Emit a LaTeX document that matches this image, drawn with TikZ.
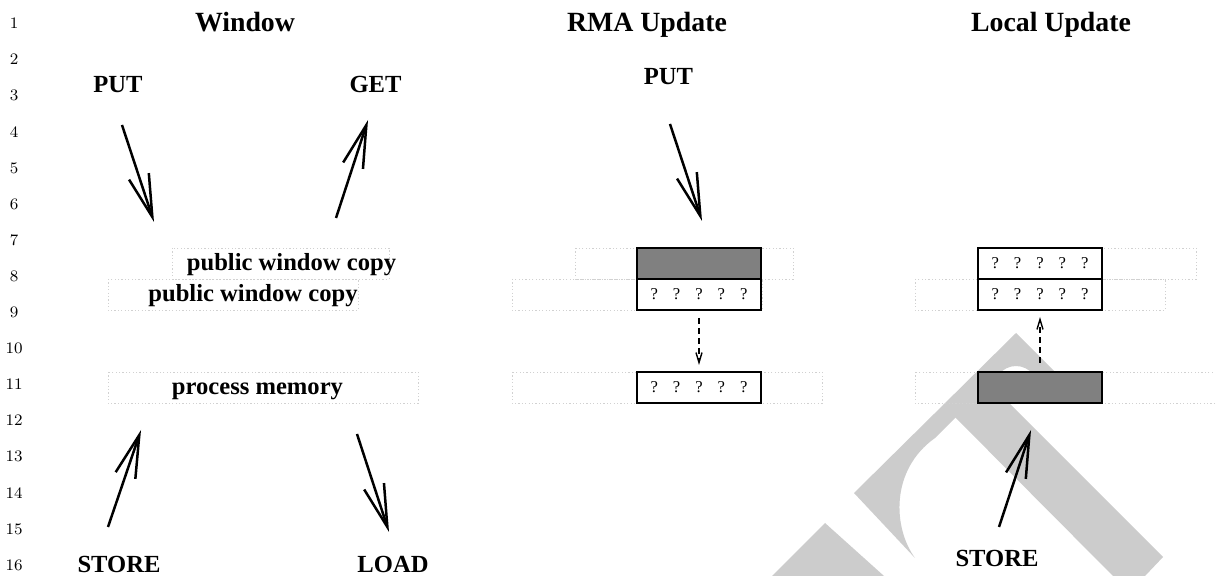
\documentclass[tikz,border=0pt]{standalone}
\usepackage{fontspec}
\newfontfamily\tms{Liberation Serif}
\usetikzlibrary{arrows.meta}
\tikzset{
 ttl/.style={font=\tms\fontsize{13.9}{16}\selectfont\bfseries, inner sep=0pt, anchor=base},
 lbl/.style={font=\tms\fontsize{12.3}{14}\selectfont\bfseries, inner sep=0pt, anchor=base},
 lnum/.style={font=\fontsize{8}{9}\selectfont, inner sep=0pt},
 bigarrow/.style={line width=1.25pt, -{Straight Barb[length=21.4pt,width=10.4pt]}},
 dasharrow/.style={line width=0.7pt, dash pattern=on 3pt off 2pt, -{Straight Barb[length=5pt,width=3pt]}},
 dotbox/.style={draw=black!18, line width=0.4pt, dash pattern=on 0.6pt off 1.1pt},
 cell/.style={draw=black, line width=0.55pt, minimum width=62pt, minimum height=15.5pt, inner sep=0pt, outer sep=0pt, anchor=north west, font=\tms\fontsize{8.3}{9}\selectfont},
 graycell/.style={cell, fill=black!50},
 wm/.style={fill=black!20}
}
\newcommand\qmarksrow{?\hspace{7.5pt}?\hspace{7.5pt}?\hspace{7.5pt}?\hspace{7.5pt}?}
\begin{document}
\begin{tikzpicture}[x=0.5pt,y=-0.5pt]
\useasboundingbox (0,0) rectangle (1215,576);
\fill[white] (0,0) rectangle (1215,576);
% watermark
\fill[wm] (1016,333) -- (854,493) -- (915,558) .. controls (893,528) and (890,470) .. (935,438) -- (998,375) .. controls (1008,363) and (1024,363) .. (1034,375) -- (1050,391) -- (1075,392) -- cycle;
\fill[wm] (943,405) -- (1113,576) -- (1145,576) -- (1163,557) -- (1000,394) -- (960,394) -- cycle;
\fill[wm] (825,523) -- (772,576) -- (884,576) -- cycle;
% line numbers
\foreach \n in {1,...,16} \node[lnum] (ln\n) at (14,{23.5+36.1*(\n-1)}) {\n};
% titles
\node[ttl] (t1) at (245,31.5) {Window};
\node[ttl] (t2) at (647,31.5) {RMA Update};
\node[ttl] (t3) at (1051,31.5) {Local Update};
% dotted boxes
\draw[dotbox] (172,248) rectangle (389,279);
\draw[dotbox] (108,279) rectangle (358,310);
\draw[dotbox] (108,372) rectangle (418,403);
\draw[dotbox] (575,248) rectangle (793,279);
\draw[dotbox] (512,279) rectangle (762,310);
\draw[dotbox] (512,372) rectangle (822,403);
\draw[dotbox] (978,248) rectangle (1196,279);
\draw[dotbox] (915,279) rectangle (1165,310);
\draw[dotbox] (915,372) rectangle (1225,403);
% labels
\node[lbl] (put1) at (118,93) {PUT};
\node[lbl] (get1) at (375.5,93) {GET};
\node[lbl] (pw1) at (291.5,271) {public window copy};
\node[lbl] (pw2) at (253,302) {public window copy};
\node[lbl] (pm1) at (257.5,395) {process memory};
\node[lbl] (st1) at (119,573) {STORE};
\node[lbl] (ld1) at (393,573) {LOAD};
\node[lbl] (put2) at (668.5,85) {PUT};
\node[lbl] (st2) at (997,567) {STORE};
% arrow end points
\coordinate (a1s) at (122,125); \coordinate (a1e) at (154,222);
\coordinate (a2s) at (336,218); \coordinate (a2e) at (368,120);
\coordinate (a3s) at (108,527); \coordinate (a3e) at (141,430);
\coordinate (a4s) at (357,434); \coordinate (a4e) at (389,532);
\coordinate (a5s) at (670,124); \coordinate (a5e) at (702,221);
\coordinate (a6s) at (999,527); \coordinate (a6e) at (1031,430);
\draw[bigarrow] (a1s) -- (a1e);
\draw[bigarrow] (a2s) -- (a2e);
\draw[bigarrow] (a3s) -- (a3e);
\draw[bigarrow] (a4s) -- (a4e);
\draw[bigarrow] (a5s) -- (a5e);
\draw[bigarrow] (a6s) -- (a6e);
% RMA cells
\node[graycell] (r1) at (637,248) {};
\node[cell] (r2) at (637,279) {\qmarksrow};
\node[cell] (r3) at (637,372) {\qmarksrow};
% Local cells
\node[cell] (l1) at (978,248) {\qmarksrow};
\node[cell] (l2) at (978,279) {\qmarksrow};
\node[graycell] (l3) at (978,372) {};
% dashed arrows
\draw[dasharrow] ([yshift=-4pt]r2.south) -- ([yshift=3.5pt]r3.north);
\draw[dasharrow] ([yshift=4.5pt]l3.north) -- ([yshift=-3.5pt]l2.south);
\end{tikzpicture}
\end{document}
